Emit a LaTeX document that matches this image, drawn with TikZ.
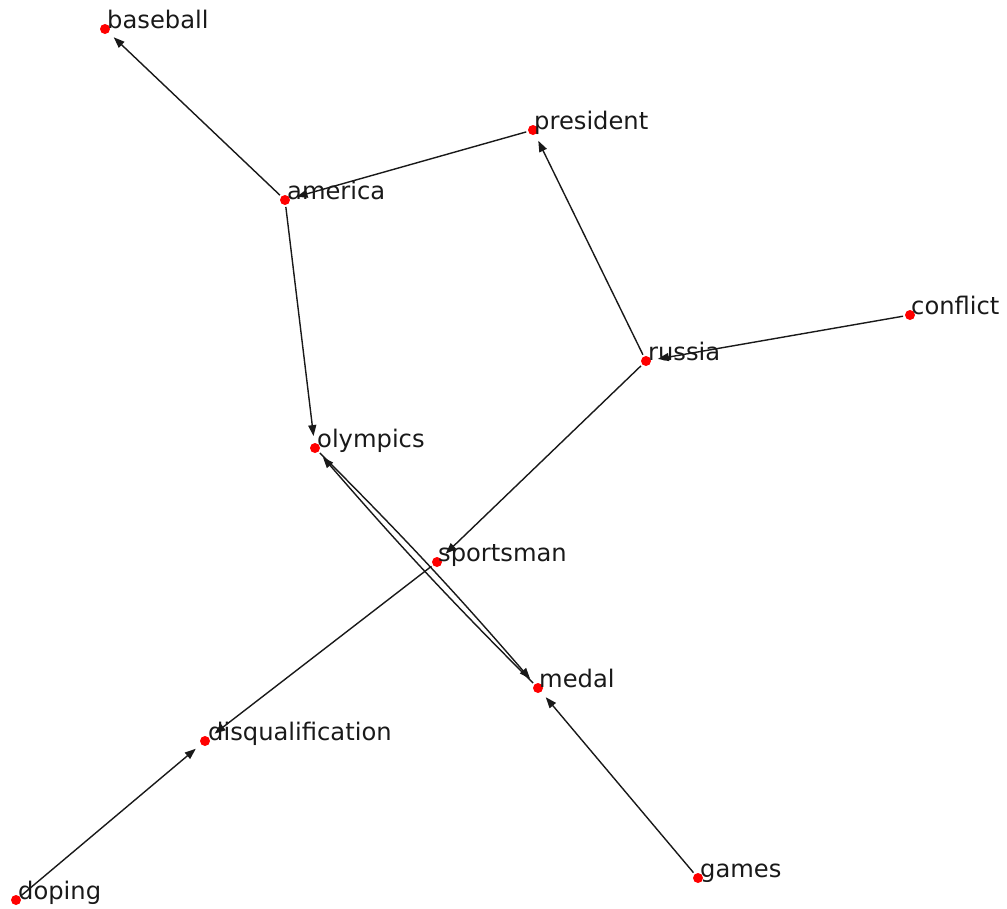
\documentclass[tikz,border=0pt]{standalone}
\usepackage{fontspec}
\setmainfont{DejaVu Sans}
\usetikzlibrary{arrows.meta,backgrounds}
\begin{document}
\begin{tikzpicture}[x=1pt,y=-1pt,
  dot/.style={circle,fill=red,draw=none,minimum size=10pt,inner sep=0pt,outer sep=2pt},
  word/.style={anchor=base west,inner sep=0pt,text=black!90,font=\fontsize{24.2}{29}\selectfont},
  link/.style={line width=1.4pt,draw=black!90,-{Triangle[length=11pt,width=8pt]},shorten >=5pt}]
\useasboundingbox (0,0) rectangle (1007,908);

% nodes
\node[dot] (baseball)  at (105,29)  {};
\node[dot] (president) at (533,130) {};
\node[dot] (america)   at (285,200) {};
\node[dot] (conflict)  at (910,315) {};
\node[dot] (russia)    at (646,361) {};
\node[dot] (olympics)  at (315,448) {};
\node[dot] (sportsman) at (437,562) {};
\node[dot] (medal)     at (538,688) {};
\node[dot] (disq)      at (205,741) {};
\node[dot] (doping)    at (16,900)  {};
\node[dot] (games)     at (698,878) {};

% labels
\node[word] (baseball-t)  at (107,28)  {baseball};
\node[word] (president-t) at (534,129) {president};
\node[word] (america-t)   at (287,199) {america};
\node[word] (conflict-t)  at (911,314) {conflict};
\node[word] (russia-t)    at (648,360) {russia};
\node[word] (olympics-t)  at (317,447) {olympics};
\node[word] (sportsman-t) at (438,561) {sportsman};
\node[word] (medal-t)     at (539,687) {medal};
\node[word] (disq-t)      at (208,740) {disqualification};
\node[word] (doping-t)    at (18,899)  {doping};
\node[word] (games-t)     at (700,877) {games};

% edges
\begin{scope}[on background layer]
\draw[link] (america) -- (baseball);
\draw[link] (president) -- (america);
\draw[link] (america) -- (olympics);
\draw[link] (russia) -- (president);
\draw[link] (conflict) -- (russia);
\draw[link] (russia) -- (sportsman);
\draw[link] (olympics) to[bend left=2] (medal);
\draw[link] (medal) to[bend left=2] (olympics);
\draw[link] (sportsman) -- (disq);
\draw[link] (doping) -- (disq);
\draw[link] (games) -- (medal);
\end{scope}
\end{tikzpicture}
\end{document}
